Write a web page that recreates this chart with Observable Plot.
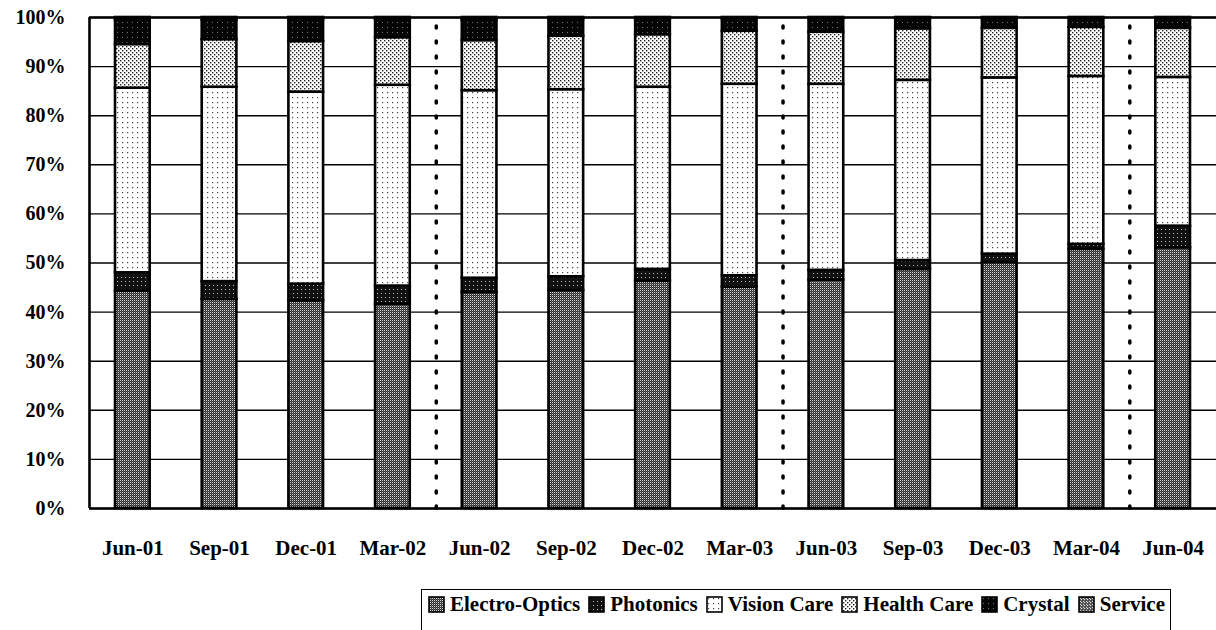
<!DOCTYPE html>
<html>
<head>
<meta charset="utf-8">
<script src="https://cdn.jsdelivr.net/npm/d3@7"></script>
<script src="https://cdn.jsdelivr.net/npm/@observablehq/plot@0.6"></script>
<style>
  html, body { margin: 0; padding: 0; background: #fff; }
  #wrap { position: relative; width: 1216px; height: 630px; overflow: hidden; font-family: "Liberation Serif", Tinos, "Times New Roman", "DejaVu Serif", serif; }
  #chart svg text { font-family: "Liberation Serif", Tinos, "Times New Roman", "DejaVu Serif", serif; }
  #legend { position: absolute; left: 421px; top: 589px; width: 750px; height: 50px;
    border-top: 1.5px solid #000; border-left: 1.5px solid #000; border-right: 1.5px solid #000;
    display: flex; align-items: flex-start; padding-top: 2px; box-sizing: border-box;
    font-weight: bold; font-size: 21px; color: #000; }
  .item { display: flex; align-items: center; margin-left: 6px; margin-right: 2px; white-space: nowrap; }
  .item svg { margin-right: 5px; }
</style>
</head>
<body>
<div id="wrap"><div id="chart"></div><div id="legend"></div></div>
<script>
// ---- data ----
const periods = ["Jun-01","Sep-01","Dec-01","Mar-02","Jun-02","Sep-02","Dec-02","Mar-03","Jun-03","Sep-03","Dec-03","Mar-04","Jun-04"];
const seriesNames = ["Electro-Optics","Photonics","Vision Care","Health Care","Crystal","Service"];
const electroOptics = [44.3, 42.6, 42.3, 41.6, 44.0, 44.4, 46.3, 45.1, 46.5, 48.7, 50.1, 52.8, 53.1];
const photonics     = [ 3.7,  3.6,  3.4,  3.7,  2.9,  2.8,  2.4,  2.3,  2.0,  1.8,  1.7,  1.0,  4.4];
const visionCare    = [37.6, 39.6, 39.1, 40.9, 38.2, 38.1, 37.1, 39.0, 37.9, 36.7, 35.9, 34.2, 30.3];
const healthCare    = [ 8.9,  9.7, 10.3,  9.7, 10.2, 10.9, 10.7, 10.8, 10.6, 10.5, 10.1, 10.0, 10.0];
const crystal       = [ 5.0,  4.0,  4.4,  3.6,  4.2,  3.4,  3.1,  2.5,  2.7,  2.1,  2.0,  1.8,  2.0];
const service       = [ 0.5,  0.5,  0.5,  0.5,  0.5,  0.4,  0.4,  0.3,  0.3,  0.2,  0.2,  0.2,  0.2];
const yTicks = [0,10,20,30,40,50,60,70,80,90,100];
const fiscalYearEnds = ["Mar-02","Mar-03","Mar-04"];

const seriesValues = [electroOptics, photonics, visionCare, healthCare, crystal, service];
const patternIds = ["p-eo","p-ph","p-vc","p-hc","p-cr","p-sv"];
const rows = [];
periods.forEach((p, i) => seriesNames.forEach((s, k) => rows.push({period: p, series: s, value: seriesValues[k][i]})));

// ---- layout ----
const W = 1216, H = 570, mL = 89, mR = 0, mT = 17, mB = 62;
const step = (W - mL - mR) / periods.length;
const FONT = "'Liberation Serif', Tinos, 'Times New Roman', 'DejaVu Serif', serif";

const chart = Plot.plot({
  width: W, height: H,
  marginLeft: mL, marginRight: mR, marginTop: mT, marginBottom: mB,
  style: {fontFamily: FONT, fontWeight: "bold", fontSize: "20px", color: "#000", background: "#fff"},
  x: {domain: periods, paddingInner: 0.6, paddingOuter: 0.3, align: 0.5, round: false, label: null},
  y: {domain: [0, 100], label: null},
  color: {type: "ordinal", domain: seriesNames, range: patternIds.map(d => `url(#${d})`)},
  marks: [
    Plot.ruleY(yTicks, {stroke: "#000", strokeWidth: 1.4}),
    Plot.ruleY([0, 100], {stroke: "#000", strokeWidth: 2.6}),
    Plot.ruleX([periods[0]], {dx: -step / 2, y1: 0, y2: 100, stroke: "#000", strokeWidth: 2.6}),
    Plot.ruleX(fiscalYearEnds, {dx: step / 2, y1: 0, y2: 100, stroke: "#000", strokeWidth: 3.5, strokeDasharray: "2 13", strokeLinecap: "round"}),
    Plot.barY(rows, Plot.stackY({x: "period", y: "value", fill: "series", order: seriesNames, stroke: "#000", strokeWidth: 2.6})),
    Plot.axisY({ticks: yTicks, tickSize: 0, tickPadding: 24, tickFormat: d => d + "%", fontSize: 20, fontWeight: "bold"}),
    Plot.axisX({tickSize: 0, tickPadding: 32, fontSize: 21, fontWeight: "bold"})
  ]
});

const defs = `
<defs>
  <pattern id="p-eo" width="2" height="2" patternUnits="userSpaceOnUse">
    <rect width="2" height="2" fill="#2e2e2e"/><rect width="1" height="1" fill="#d8d8d8"/><rect x="1" y="1" width="1" height="1" fill="#5a5a5a"/>
  </pattern>
  <pattern id="p-ph" width="4" height="4" patternUnits="userSpaceOnUse">
    <rect width="4" height="4" fill="#111"/><rect x="1" y="1" width="1" height="1" fill="#bbb"/>
  </pattern>
  <pattern id="p-vc" width="5" height="5" patternUnits="userSpaceOnUse">
    <rect width="5" height="5" fill="#fff"/><rect x="2" y="2" width="1.2" height="1.2" fill="#444"/>
  </pattern>
  <pattern id="p-hc" width="4" height="4" patternUnits="userSpaceOnUse">
    <rect width="4" height="4" fill="#fff"/><rect x="0" y="0" width="1.4" height="1.4" fill="#222"/><rect x="2" y="2" width="1.4" height="1.4" fill="#222"/>
  </pattern>
  <pattern id="p-cr" width="5" height="5" patternUnits="userSpaceOnUse">
    <rect width="5" height="5" fill="#050505"/><rect x="2" y="2" width="1" height="1" fill="#777"/>
  </pattern>
  <pattern id="p-sv" width="3" height="3" patternUnits="userSpaceOnUse">
    <rect width="3" height="3" fill="#555"/><rect width="1" height="1" fill="#eee"/><rect x="2" y="2" width="1" height="1" fill="#ccc"/>
  </pattern>
</defs>`;
chart.insertAdjacentHTML("afterbegin", defs);
document.getElementById("chart").appendChild(chart);

// ---- legend ----
const legend = document.getElementById("legend");
seriesNames.forEach((s, k) => {
  const it = document.createElement("div");
  it.className = "item";
  it.innerHTML = `<svg width="17" height="17"><rect x="1" y="1" width="15" height="15" fill="url(#${patternIds[k]})" stroke="#000" stroke-width="1.6"/></svg><span>${s}</span>`;
  legend.appendChild(it);
});
</script>
</body>
</html>
